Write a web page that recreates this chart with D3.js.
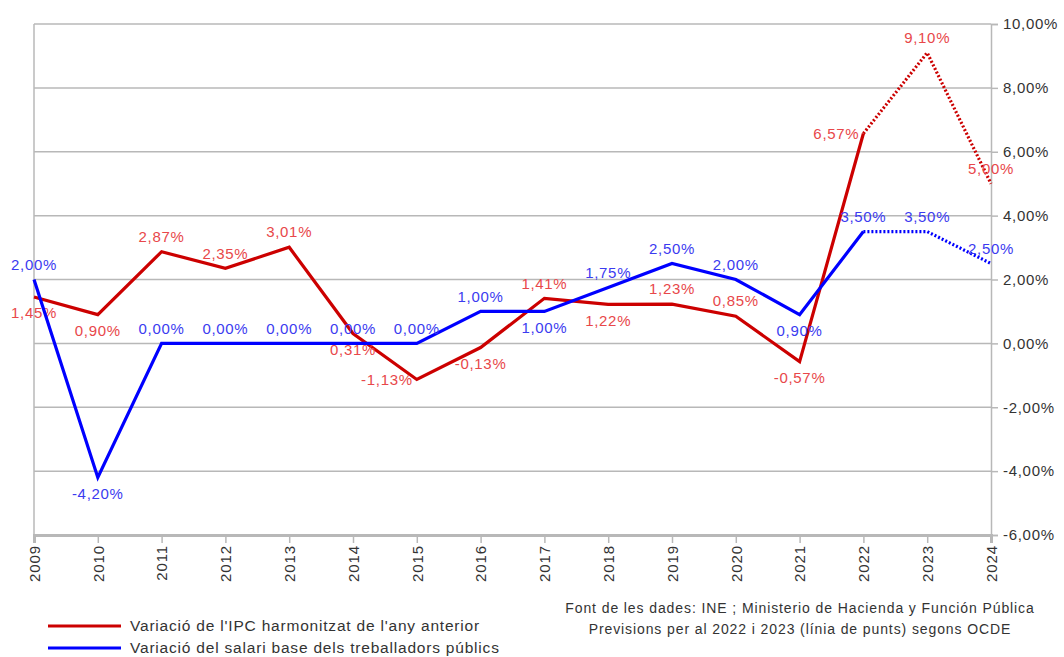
<!DOCTYPE html>
<html><head><meta charset="utf-8">
<script src="https://cdn.jsdelivr.net/npm/d3@7"></script>
<style>
body{margin:0;background:#fff;}
text{font-family:"Liberation Sans",Arial,sans-serif;}
</style></head>
<body><svg id="c" width="1064" height="657"></svg>
<script>
const years = [2009,2010,2011,2012,2013,2014,2015,2016,2017,2018,2019,2020,2021,2022,2023,2024];
const ipc = [1.45,0.90,2.87,2.35,3.01,0.31,-1.13,-0.13,1.41,1.22,1.23,0.85,-0.57,6.57,9.10,5.00];
const salari = [2.00,-4.20,0,0,0,0,0,1.00,1.00,1.75,2.50,2.00,0.90,3.50,3.50,2.50];
const forecastFrom = 2022;
const ipcLabelPos = ["below","below","above","above","above","below","left","below","above","below","above","above","below","left","above","above"];
const salariLabelPos = ["above","below","above","above","above","above","above","above","below","above","above","above","below","above","above","above"];
const yTicks = [10,8,6,4,2,0,-2,-4,-6];
const legendLabels = ["Variació de l'IPC harmonitzat de l'any anterior","Variació del salari base dels treballadors públics"];
const sourceLines = ["Font de les dades: INE ; Ministerio de Hacienda y Función Pública","Previsions per al 2022 i 2023 (línia de punts) segons OCDE"];

const svg = d3.select("#c");
const x = d3.scaleLinear().domain([2009,2024]).range([34,991]);
const y = d3.scaleLinear().domain([-6,10]).range([535,24]);
const fmt = v => v.toFixed(2).replace(".",",") + "%";
const grid = "#b8b8b8";

// gridlines
svg.append("g").selectAll("line").data(yTicks.filter(t=>t>-6)).join("line")
  .attr("x1",34).attr("x2",991).attr("y1",d=>y(d)).attr("y2",d=>y(d))
  .attr("stroke",grid).attr("stroke-width",1.5);
// left border
svg.append("line").attr("x1",34).attr("x2",34).attr("y1",24).attr("y2",535).attr("stroke",grid).attr("stroke-width",1.5);

// right axis
const ya = svg.append("g").attr("transform","translate(991,0)")
  .call(d3.axisRight(y).tickValues(yTicks).tickSize(7).tickPadding(5).tickFormat(fmt));
ya.select(".domain").attr("stroke",grid).attr("stroke-width",1.5);
ya.selectAll(".tick line").attr("stroke",grid).attr("stroke-width",1.5);
ya.selectAll("text").attr("fill","#333").style("font-size","15px").style("letter-spacing","0.7px")
  .style("font-family","Liberation Sans, Arial, sans-serif");

// bottom axis
const xa = svg.append("g").attr("transform","translate(0,535)")
  .call(d3.axisBottom(x).tickValues(years).tickSize(8).tickFormat(d3.format("d")));
xa.select(".domain").attr("stroke",grid).attr("stroke-width",3);
xa.selectAll(".tick line").attr("stroke",grid).attr("stroke-width",1.5);
xa.selectAll("text").attr("fill","#333").style("font-size","15px").style("letter-spacing","0.9px")
  .style("font-family","Liberation Sans, Arial, sans-serif")
  .attr("transform","rotate(-90)").attr("text-anchor","end")
  .attr("x",-10).attr("y",0).attr("dy","0.35em");

function drawSeries(vals, lineCol, labCol, pos){
  const pts = years.map((yr,i)=>({yr, v:vals[i], p:pos[i]}));
  const line = d3.line().x(d=>x(d.yr)).y(d=>y(d.v));
  const solid = pts.filter(d=>d.yr<=forecastFrom);
  const dotted = pts.filter(d=>d.yr>=forecastFrom);
  svg.append("path").attr("d",line(solid)).attr("fill","none").attr("stroke",lineCol)
    .attr("stroke-width",3.2).attr("stroke-linejoin","miter");
  svg.append("path").attr("d",line(dotted)).attr("fill","none").attr("stroke",lineCol)
    .attr("stroke-width",3.2).attr("stroke-dasharray","2,2");
  svg.append("g").selectAll("text").data(pts).join("text")
    .attr("x",d=> d.p==="left" ? x(d.yr)-4 : x(d.yr))
    .attr("y",d=> d.p==="above" ? y(d.v)-15 : d.p==="below" ? y(d.v)+16 : y(d.v))
    .attr("dy","0.35em")
    .attr("text-anchor",d=> d.p==="left" ? "end" : "middle")
    .attr("fill",labCol).style("font-size","15px").style("letter-spacing","0.7px")
    .text(d=>fmt(d.v));
}
drawSeries(ipc,"#cc0000","#e8474a",ipcLabelPos);
drawSeries(salari,"#0000ff","#3b3bf0",salariLabelPos);

// legend
const lg = svg.append("g");
[["#cc0000",626],["#0000ff",648]].forEach(([c,yy],i)=>{
  lg.append("line").attr("x1",48).attr("x2",121).attr("y1",yy).attr("y2",yy).attr("stroke",c).attr("stroke-width",3);
  lg.append("text").attr("x",130).attr("y",yy).attr("dy","0.35em").attr("fill","#333")
    .style("font-size","15.5px").style("letter-spacing","0.8px").text(legendLabels[i]);
});
// source
svg.append("g").selectAll("text").data(sourceLines).join("text")
  .attr("x",800).attr("y",(d,i)=>608+i*21).attr("dy","0.35em").attr("text-anchor","middle")
  .attr("fill","#333").style("font-size","14px").style("letter-spacing","0.9px").text(d=>d);
</script></body></html>
